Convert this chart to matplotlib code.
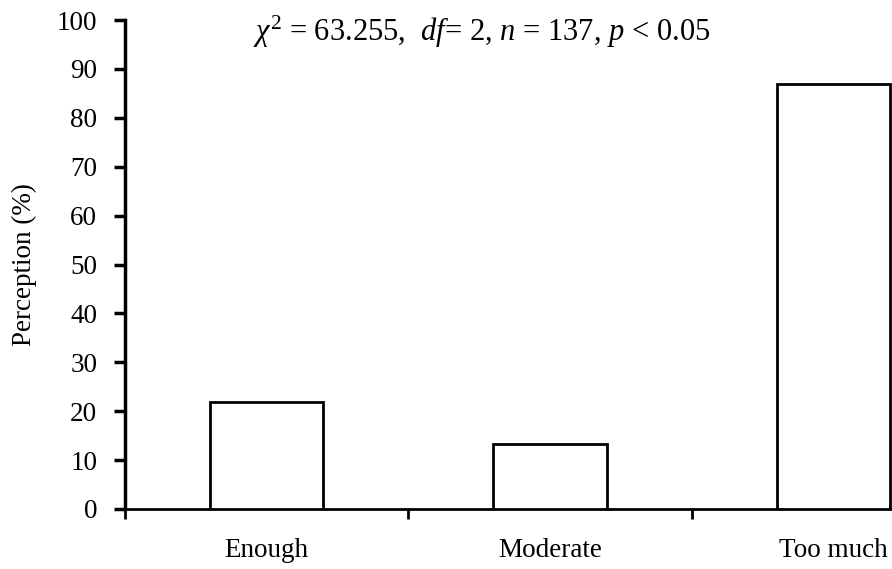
import matplotlib
matplotlib.use("Agg")
import matplotlib.pyplot as plt
import numpy as np

categories = ["Enough", "Moderate", "Too much"]
perception = [21.9, 13.2, 87.0]
y_ticks = [0, 10, 20, 30, 40, 50, 60, 70, 80, 90, 100]

plt.rcParams["font.family"] = ["Liberation Serif", "DejaVu Serif"]
plt.rcParams["mathtext.fontset"] = "custom"
plt.rcParams["mathtext.rm"] = "Liberation Serif"
plt.rcParams["mathtext.it"] = "Liberation Serif:italic"

fig = plt.figure(figsize=(8.92, 5.69), dpi=100)
# axes runs past the right edge of the figure, so the last bar is clipped
ax = fig.add_axes([125 / 892, 1 - 509 / 569, 850 / 892, 489 / 569])

x = np.arange(len(categories))
ax.bar(x, perception, width=0.40, color="white", edgecolor="black", linewidth=2.0, zorder=3)

ax.set_xlim(-0.5, 2.5)
ax.set_ylim(0, 100)
ax.set_yticks(y_ticks)
ax.set_xticks(x)
ax.set_xticklabels(categories, fontsize=19.5)
ax.set_xticks([-0.5, 0.5, 1.5], minor=True)
ax.tick_params(axis="x", which="major", length=0, pad=21)
ax.tick_params(axis="x", which="minor", length=7, width=2, direction="out")
ax.tick_params(axis="y", which="major", length=8, width=2.5, labelsize=19.5, pad=12)

for s in ("top", "right"):
    ax.spines[s].set_visible(False)
ax.spines["left"].set_linewidth(2.5)
ax.spines["bottom"].set_linewidth(2.0)

ax.set_ylabel("Perception (%)", fontsize=19.5, labelpad=14)

fig.text(253 / 892, 1 - 41 / 569,
         r"$\chi^2$ = 63.255,  $df$= 2, $n$ = 137, $p$ < 0.05",
         ha="left", va="baseline", fontsize=22)

fig.savefig("out.png", dpi=100)
